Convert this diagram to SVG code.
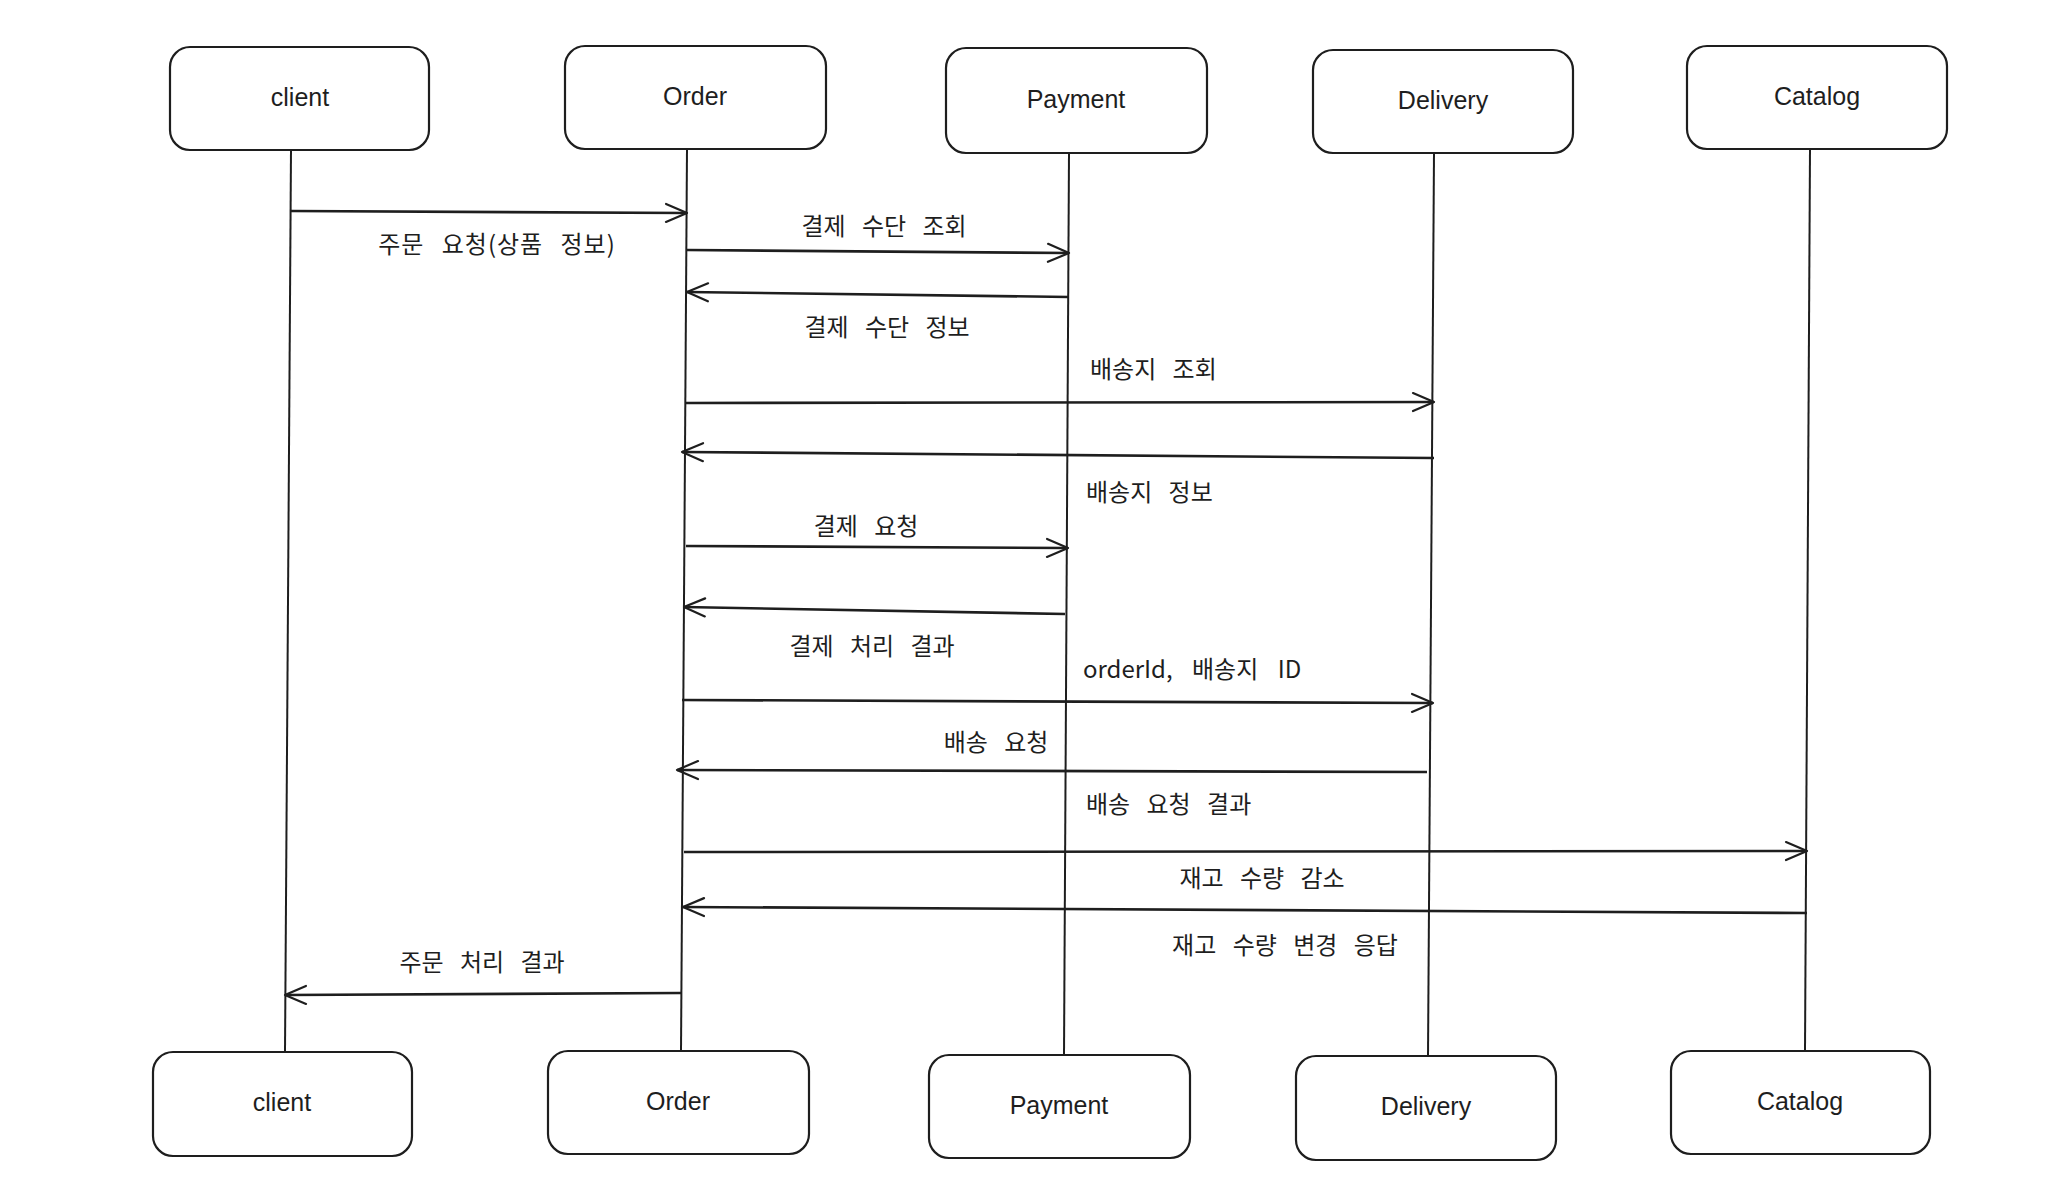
<svg xmlns="http://www.w3.org/2000/svg" width="2052" height="1186" viewBox="0 0 2052 1186">
<defs>
<style>
.box{fill:#ffffff;stroke:#1e1e1e;stroke-width:2.2}
.life{fill:none;stroke:#1e1e1e;stroke-width:2}
.msg{fill:none;stroke:#1e1e1e;stroke-width:2.6;marker-end:url(#arr)}
.nt{font-family:"Liberation Sans","DejaVu Sans",sans-serif;font-size:25px;fill:#1e1e1e;text-anchor:middle}
.lb{font-family:"Noto Sans CJK KR","Noto Sans",sans-serif;font-size:24px;letter-spacing:0px;word-spacing:11px;fill:#1e1e1e}
.c{text-anchor:middle}
.s{text-anchor:start}
</style>
<marker id="arr" viewBox="-24 -12 26 24" refX="0" refY="0" markerWidth="26" markerHeight="24" markerUnits="userSpaceOnUse" orient="auto">
<path d="M-21,-9 L0,0 L-21,9" fill="none" stroke="#1e1e1e" stroke-width="2.2" stroke-linecap="round" stroke-linejoin="round"/>
</marker>
</defs>
<rect width="2052" height="1186" fill="#ffffff"/>

<g id="connectors">
<g id="lifelines">
<line class="life" x1="291" y1="150" x2="285" y2="1052"/>
<line class="life" x1="687" y1="149" x2="681" y2="1051"/>
<line class="life" x1="1069" y1="153" x2="1064" y2="1055"/>
<line class="life" x1="1434" y1="153" x2="1428" y2="1056"/>
<line class="life" x1="1810" y1="149" x2="1805" y2="1051"/>
</g>
<g id="messages">
<path class="msg" d="M291,211 L687,213"/>
<path class="msg" d="M687,250 L1069,253"/>
<path class="msg" d="M1069,297 L687,292"/>
<path class="msg" d="M686,403 L1434,402"/>
<path class="msg" d="M1434,458 L682,452"/>
<path class="msg" d="M686,546 L1068,548"/>
<path class="msg" d="M1065,614 L684,607"/>
<path class="msg" d="M682,700 L1433,703"/>
<path class="msg" d="M1427,772 L677,770"/>
<path class="msg" d="M684,852 L1807,851"/>
<path class="msg" d="M1807,913 L683,907"/>
<path class="msg" d="M681,993 L285,995"/>
</g>
<g id="labels">
<text class="lb c" x="497" y="253" style="letter-spacing:1px">주문 요청(상품 정보)</text>
<text class="lb c" x="884" y="235">결제 수단 조회</text>
<text class="lb c" x="887" y="336">결제 수단 정보</text>
<text class="lb s" x="1090" y="378">배송지 조회</text>
<text class="lb s" x="1086" y="501">배송지 정보</text>
<text class="lb c" x="866" y="535">결제 요청</text>
<text class="lb c" x="872" y="655">결제 처리 결과</text>
<text class="lb s" x="1083" y="678" style="word-spacing:14px">orderId, 배송지 ID</text>
<text class="lb c" x="996" y="751">배송 요청</text>
<text class="lb s" x="1086" y="813">배송 요청 결과</text>
<text class="lb c" x="1262" y="887">재고 수량 감소</text>
<text class="lb c" x="1285" y="954">재고 수량 변경 응답</text>
<text class="lb c" x="482" y="971">주문 처리 결과</text>
</g>
</g>

<g id="client-top"><rect class="box" x="170" y="47" width="259" height="103" rx="20"/><text class="nt" x="300" y="106">client</text></g>
<g id="order-top"><rect class="box" x="565" y="46" width="261" height="103" rx="20"/><text class="nt" x="695" y="105">Order</text></g>
<g id="payment-top"><rect class="box" x="946" y="48" width="261" height="105" rx="20"/><text class="nt" x="1076" y="108">Payment</text></g>
<g id="delivery-top"><rect class="box" x="1313" y="50" width="260" height="103" rx="20"/><text class="nt" x="1443" y="109">Delivery</text></g>
<g id="catalog-top"><rect class="box" x="1687" y="46" width="260" height="103" rx="20"/><text class="nt" x="1817" y="105">Catalog</text></g>

<g id="client-bottom"><rect class="box" x="153" y="1052" width="259" height="104" rx="20"/><text class="nt" x="282" y="1111">client</text></g>
<g id="order-bottom"><rect class="box" x="548" y="1051" width="261" height="103" rx="20"/><text class="nt" x="678" y="1110">Order</text></g>
<g id="payment-bottom"><rect class="box" x="929" y="1055" width="261" height="103" rx="20"/><text class="nt" x="1059" y="1114">Payment</text></g>
<g id="delivery-bottom"><rect class="box" x="1296" y="1056" width="260" height="104" rx="20"/><text class="nt" x="1426" y="1115">Delivery</text></g>
<g id="catalog-bottom"><rect class="box" x="1671" y="1051" width="259" height="103" rx="20"/><text class="nt" x="1800" y="1110">Catalog</text></g>
</svg>
